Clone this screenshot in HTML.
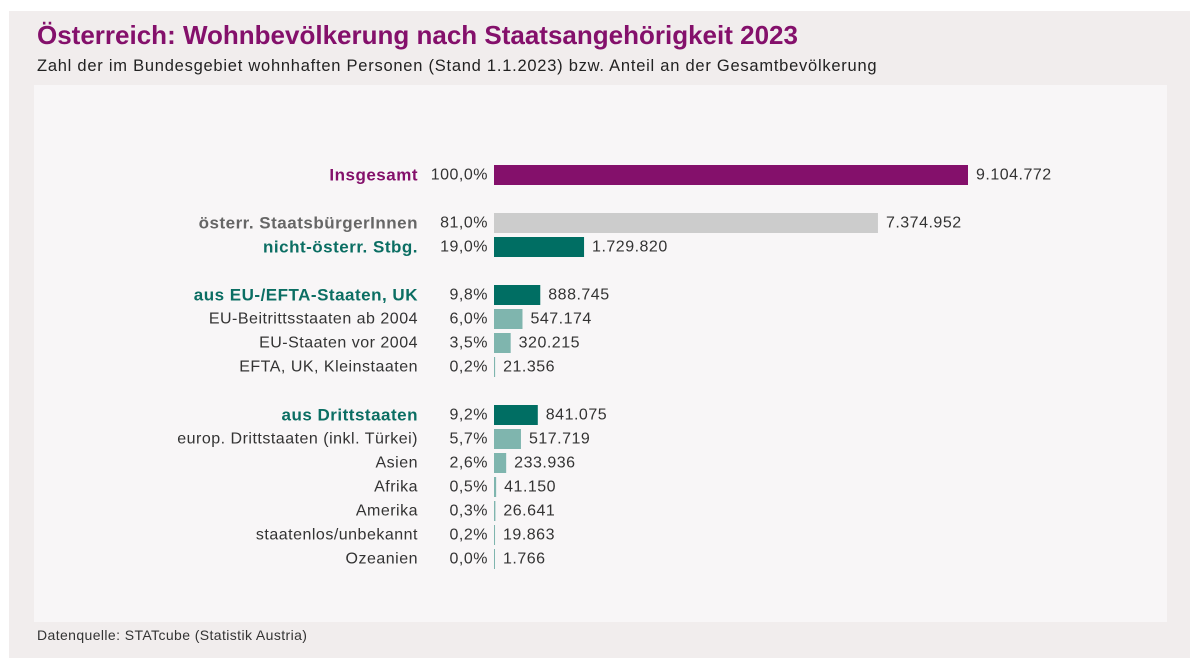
<!DOCTYPE html>
<html><head><meta charset="utf-8"><style>
body{margin:0;width:1200px;height:671px;background:#fff;font-family:"Liberation Sans",sans-serif;position:relative;overflow:hidden}
#outer{position:absolute;left:9px;top:11px;width:1181px;height:647px;background:#f1eded}
#title{position:absolute;left:37px;top:20px;font-size:26px;font-weight:bold;color:#84106b}
#sub{position:absolute;left:37px;top:57px;font-size:16.5px;color:#222;letter-spacing:0.75px}
#panel{position:absolute;left:34px;top:85px;width:1133px;height:537px;background:#f8f6f7}
#src{position:absolute;left:37px;top:627px;font-size:14px;color:#333;letter-spacing:0.4px}
svg text{letter-spacing:0.5px}
</style></head><body>
<div id="outer"></div>
<div id="title">Österreich: Wohnbevölkerung nach Staatsangehörigkeit 2023</div>
<div id="sub">Zahl der im Bundesgebiet wohnhaften Personen (Stand 1.1.2023) bzw. Anteil an der Gesamtbevölkerung</div>
<div id="panel"></div>
<div id="src">Datenquelle: STATcube (Statistik Austria)</div>
<svg id="chart" width="1200" height="671" style="position:absolute;left:0;top:0"></svg>
<script>
const categories=["Insgesamt","österr. StaatsbürgerInnen","nicht-österr. Stbg.","aus EU-/EFTA-Staaten, UK","EU-Beitrittsstaaten ab 2004","EU-Staaten vor 2004","EFTA, UK, Kleinstaaten","aus Drittstaaten","europ. Drittstaaten (inkl. Türkei)","Asien","Afrika","Amerika","staatenlos/unbekannt","Ozeanien"];
const values=[9104772,7374952,1729820,888745,547174,320215,21356,841075,517719,233936,41150,26641,19863,1766];
const percents=["100,0%","81,0%","19,0%","9,8%","6,0%","3,5%","0,2%","9,2%","5,7%","2,6%","0,5%","0,3%","0,2%","0,0%"];
const levels=["total","grey","main","main","sub","sub","sub","main","sub","sub","sub","sub","sub","sub"];
const rowSlots=[0,2,3,5,6,7,8,10,11,12,13,14,15,16];
const svg=document.getElementById('chart');const NS='http://www.w3.org/2000/svg';
const x0=494,maxV=9104772,w=474;
const xs=v=>v/maxV*w;
const ys=s=>175+(s===0?0:(s-2)*24+48);
const barCol={total:'#84106b',grey:'#cccccc',main:'#006e63',sub:'#7fb5ae'};
const labCol={total:'#84106b',grey:'#666',main:'#0b6e63',sub:'#333'};
function t(x,y,s,anchor,col,bold,name){const e=document.createElementNS(NS,'text');e.setAttribute('x',x);e.setAttribute('y',y);e.setAttribute('text-anchor',anchor);e.setAttribute('fill',col);e.setAttribute('font-size',bold?'17':'16');if(bold)e.setAttribute('font-weight','bold');e.setAttribute('dominant-baseline','central');e.textContent=s;


svg.appendChild(e);}
categories.forEach((c,i)=>{const y=ys(rowSlots[i]);const lv=levels[i];const bold=lv!=='sub';
t(418,y,c,'end',labCol[lv],bold,'category-label');
t(488,y,percents[i],'end','#333',false,'percent-label');
const bw=Math.max(xs(values[i]),1);
const r=document.createElementNS(NS,'rect');r.setAttribute('x',x0);r.setAttribute('y',y-10);r.setAttribute('width',bw);r.setAttribute('height',20);r.setAttribute('fill',barCol[lv]);


svg.appendChild(r);
t(x0+bw+8,y,values[i].toLocaleString('de-DE'),'start','#333',false,'value-label');});
</script>
</body></html>
